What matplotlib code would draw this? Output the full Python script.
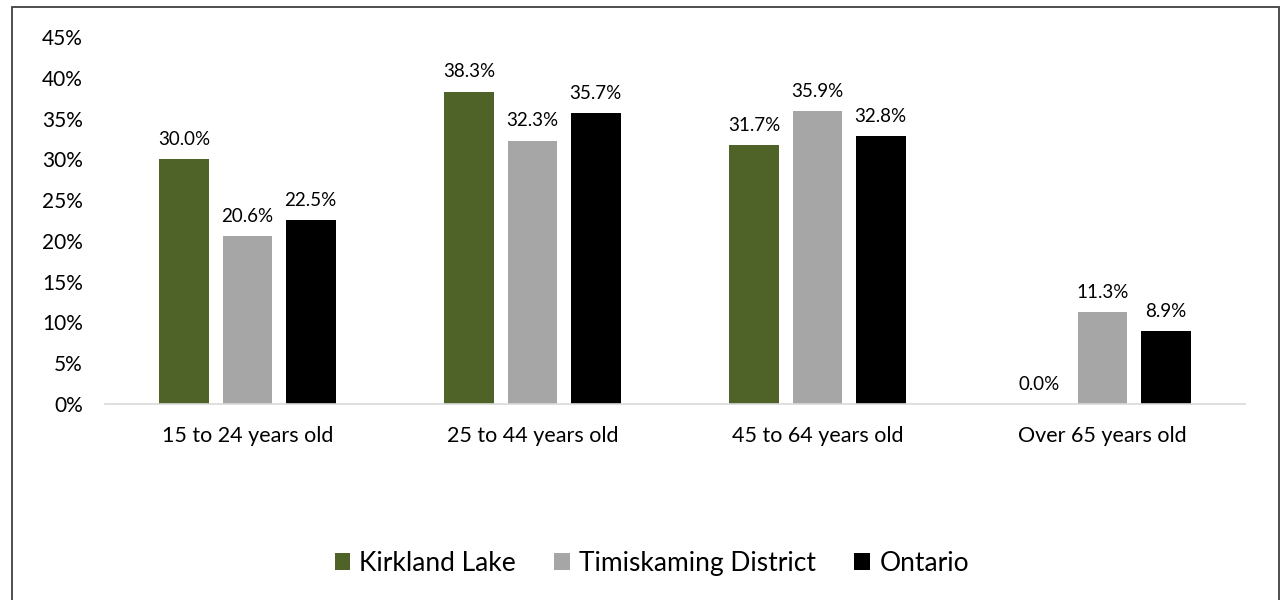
import numpy as np
import matplotlib
matplotlib.use("Agg")
import matplotlib.pyplot as plt
from matplotlib.patches import Rectangle

plt.rcParams['font.family'] = ['Lato', 'DejaVu Sans']

categories = ['15 to 24 years old', '25 to 44 years old', '45 to 64 years old', 'Over 65 years old']
series = ['Kirkland Lake', 'Timiskaming District', 'Ontario']
kirkland = [30.0, 38.3, 31.7, 0.0]
timiskaming = [20.6, 32.3, 35.9, 11.3]
ontario = [22.5, 35.7, 32.8, 8.9]
colors = ['#4F6228', '#A6A6A6', '#000000']

fig = plt.figure(figsize=(12.83, 6), dpi=100)
ax = fig.add_axes([0.0818, 0.3267, 0.8886, 0.6117])

x = np.arange(len(categories))
width = 0.175
step = 0.222
for i, (vals, name) in enumerate(zip([kirkland, timiskaming, ontario], series)):
    pos = x + (i - 1) * step
    bars = ax.bar(pos, vals, width, color=colors[i], label=name)
    for b, v in zip(bars, vals):
        ax.annotate(f'{v:.1f}%', (b.get_x() + b.get_width() / 2, v),
                    xytext=(0, 8), textcoords='offset points',
                    ha='center', va='bottom', fontsize=13.5, color='#000000')

ax.set_xlim(-0.5, len(categories) - 0.5)
ax.set_ylim(0, 45)
ax.set_yticks(np.arange(0, 46, 5))
ax.set_yticklabels([f'{t}%' for t in range(0, 46, 5)], fontsize=15)
ax.set_xticks(x)
ax.set_xticklabels(categories, fontsize=15.5)
ax.tick_params(length=0)
ax.tick_params(axis='x', pad=16)
ax.tick_params(axis='y', pad=16)
for s in ['top', 'right', 'left']:
    ax.spines[s].set_visible(False)
ax.spines['bottom'].set_color('#D9D9D9')
ax.spines['bottom'].set_linewidth(1.2)

fig.legend(loc='center', bbox_to_anchor=(0.508, 0.061), ncol=3, frameon=False,
           fontsize=19, handlelength=0.6, handleheight=0.6, handletextpad=0.34,
           columnspacing=1.45)

fig.patches.append(Rectangle((12 / 1283, -0.05), 1267 / 1283, 1.038,
                             transform=fig.transFigure, fill=False,
                             edgecolor='#404040', linewidth=1.3))

fig.savefig('out.png', dpi=100)
